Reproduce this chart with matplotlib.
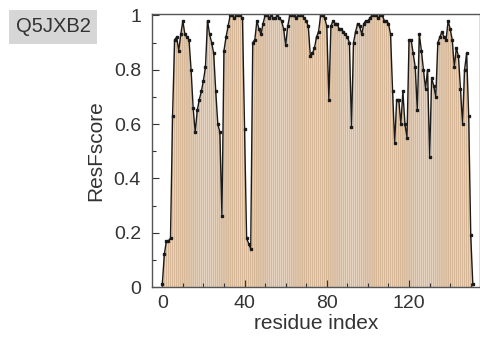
import numpy as np
import matplotlib
matplotlib.use("Agg")
import matplotlib.pyplot as plt
from matplotlib.ticker import MultipleLocator

protein_id = "Q5JXB2"
x_label = "residue index"
y_label = "ResFscore"
x_ticks = [0, 40, 80, 120]
y_ticks = [0, 0.2, 0.4, 0.6, 0.8, 1.0]
y_tick_labels = ["0", "0.2", "0.4", "0.6", "0.8", "1"]

scores = [
    0.01, 0.12, 0.17, 0.17, 0.18, 0.63, 0.91, 0.92, 0.87, 0.93,
    0.98, 0.93, 0.92, 0.91, 0.80, 0.66, 0.57, 0.65, 0.69, 0.72,
    0.76, 0.81, 0.98, 0.93, 0.90, 0.86, 0.72, 0.60, 0.57, 0.26,
    0.87, 0.92, 0.96, 1.00, 1.00, 0.99, 1.00, 1.00, 1.00, 0.99,
    0.58, 0.18, 0.16, 0.14, 0.90, 0.91, 0.98, 0.95, 0.93, 0.97,
    1.00, 1.00, 0.99, 1.00, 0.99, 0.99, 1.00, 0.99, 0.98, 0.95,
    0.89, 0.96, 1.00, 1.00, 1.00, 0.99, 1.00, 1.00, 1.00, 0.99,
    0.98, 0.96, 0.85, 0.86, 0.88, 0.92, 0.94, 1.00, 1.00, 0.99,
    0.96, 0.69, 0.96, 0.98, 0.97, 0.97, 0.95, 0.95, 0.94, 0.93,
    0.92, 0.90, 0.59, 0.90, 0.94, 0.97, 0.96, 0.93, 0.97, 0.98,
    0.98, 0.99, 1.00, 1.00, 1.00, 0.99, 1.00, 1.00, 0.98, 0.98,
    0.97, 0.93, 0.72, 0.53, 0.69, 0.69, 0.60, 0.72, 0.60, 0.55,
    0.91, 0.91, 0.86, 0.81, 0.65, 0.93, 0.87, 0.80, 0.73, 0.80,
    0.48, 0.77, 0.74, 0.70, 0.90, 0.92, 0.94, 0.92, 0.91, 0.98,
    0.95, 0.91, 0.81, 0.88, 0.85, 0.73, 0.60, 0.80, 0.86, 0.63,
    0.19, 0.01,
]
residues = list(range(len(scores)))

plt.rcParams['font.family'] = ['Liberation Sans', 'DejaVu Sans']

fig = plt.figure(figsize=(4.81, 3.52), dpi=100)
ax = fig.add_axes([152/481, 1-287/352, (480-152)/481, (287-14)/352])

bars = ax.bar(residues, scores, width=0.85, color='#d6b797', edgecolor='none',
              linewidth=0, zorder=1)
for b in bars:
    b.set_snap(False)
ax.plot(residues, scores, color='#1a1a1a', linewidth=1.0, marker='s',
        markersize=1.6, zorder=2)

ax.set_xlim(-5, 154.5)
ax.set_ylim(0, 1.005)
ax.set_xticks(x_ticks)
ax.set_yticks(y_ticks)
ax.set_yticklabels(y_tick_labels)
ax.yaxis.set_minor_locator(MultipleLocator(0.1))
ax.xaxis.set_minor_locator(MultipleLocator(10))
ax.tick_params(direction='in', which='both', labelsize=14, colors='#333333',
               length=5, width=0.8)
ax.tick_params(which='minor', length=3)
ax.tick_params(axis='y', pad=8)
ax.tick_params(axis='x', pad=6)
for s in ax.spines.values():
    s.set_color('#555555')
    s.set_linewidth(1.0)

ax.set_xlabel(x_label, fontsize=15, color='#333333', labelpad=1)
ax.set_ylabel(y_label, fontsize=15, color='#333333', labelpad=6)

fig.text(53/481, 1-27/352, protein_id, fontsize=14.5, color='#333333',
         ha='center', va='center',
         bbox=dict(boxstyle='square,pad=0.35', facecolor='#d6d6d6', edgecolor='none'))

fig.savefig('out.png', dpi=100)
